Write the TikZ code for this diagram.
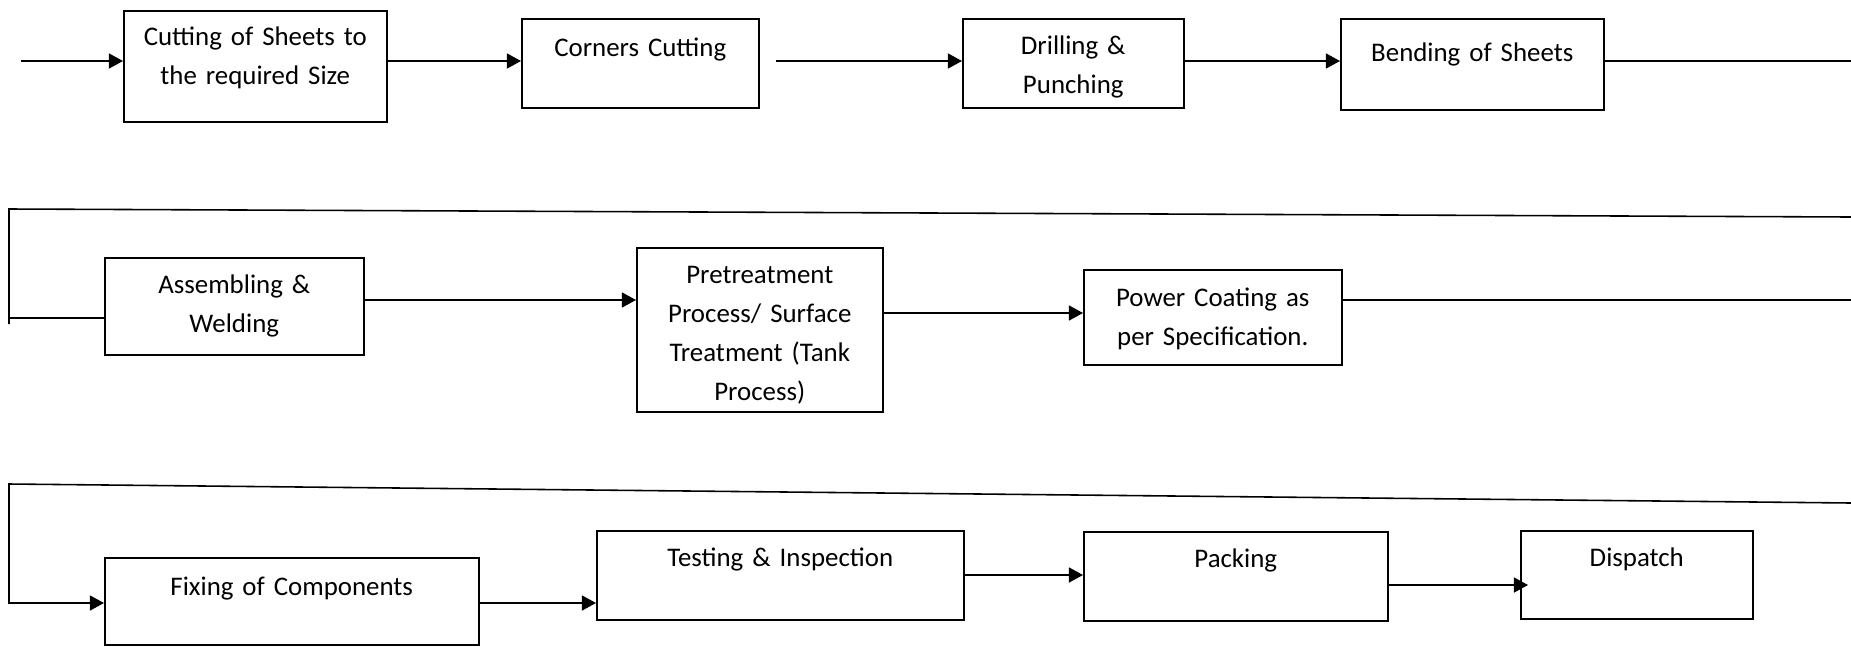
\documentclass[tikz,border=0pt]{standalone}
\usepackage{fontspec}
\setmainfont{Carlito}
\usetikzlibrary{arrows.meta}

\begin{document}
\begin{tikzpicture}[x=0.02cm, y=-0.02cm, line width=0.9pt,
	stage/.style={draw, anchor=north west, inner sep=0pt, align=center,
		font={\fontsize{15.3pt}{22.2pt}\selectfont}},
	flow/.style={-{Triangle[length=8pt,width=8.5pt]}}]

		\useasboundingbox (0,0) rectangle (1851,646);

		
		\node[stage, text width=5.26cm, text height=0.70cm, text depth=1.52cm] (cut) at (123,10) {Cutting of Sheets to\\the required Size};
		\node[stage, text width=4.74cm, text height=0.76cm, text depth=1.02cm] (corner) at (521,18) {Corners Cutting};
		\node[stage, text width=4.42cm, text height=0.72cm, text depth=1.06cm] (drill) at (962,18) {Drilling \&\\Punching};
		\node[stage, text width=5.26cm, text height=0.86cm, text depth=0.96cm] (bend) at (1340,18) {Bending of Sheets};

		\node[stage, text width=5.18cm, text height=0.72cm, text depth=1.22cm] (asm) at (104,257) {Assembling \&\\Welding};
		\node[stage, text width=4.92cm, text height=0.72cm, text depth=2.56cm] (pre) at (636,247) {Pretreatment\\Process/ Surface\\Treatment (Tank\\Process)};
		\node[stage, text width=5.16cm, text height=0.74cm, text depth=1.16cm] (coat) at (1083,269) {Power Coating as\\per Specification.};

		\node[stage, text width=7.48cm, text height=0.76cm, text depth=0.98cm] (fix) at (104,557) {Fixing of Components};
		\node[stage, text width=7.34cm, text height=0.72cm, text depth=1.06cm] (test) at (596,530) {Testing \& Inspection};
		\node[stage, text width=6.08cm, text height=0.72cm, text depth=1.06cm] (pack) at (1083,531) {Packing};
		\node[stage, text width=4.64cm, text height=0.72cm, text depth=1.04cm] (disp) at (1520,530) {Dispatch};

		
		\coordinate (in) at (21,61);
		\coordinate (gap) at (776,61);
		\coordinate (r1) at (1851,61);

		\coordinate (r2) at (1851,217);
		\coordinate (l2) at (9,209);
		\coordinate (d2) at (9,324);
		\coordinate (h2) at (9,318);

		\coordinate (r3) at (1851,503);
		\coordinate (l3) at (9,484);
		\coordinate (d3) at (9,603);

		
		\draw[flow] (in) -- (in -| cut.west);
		\draw[flow] (cut.east |- in) -- (corner.west |- in);
		\draw[flow] (gap) -- (gap -| drill.west);
		\draw[flow] (drill.east |- gap) -- (bend.west |- gap);
		\draw (bend.east |- r1) -- (r1);

		\draw (r2) -- (l2) -- (d2);
		\draw (h2) -- (h2 -| asm.west);
		\draw[flow] (asm.east |- 0,300) -- (pre.west |- 0,300);
		\draw[flow] (pre.east |- 0,313) -- (coat.west |- 0,313);
		\draw (coat.east |- 0,300) -- (r2 |- 0,300);

		\draw[flow] (r3) -- (l3) -- (d3) -- (d3 -| fix.west);
		\draw[flow] (fix.east |- d3) -- (test.west |- d3);
		\draw[flow] (test.east |- 0,575) -- (pack.west |- 0,575);
		\draw[flow, shorten >=-0.16cm] (pack.east |- 0,585) -- (disp.west |- 0,585);

\end{tikzpicture}
\end{document}
